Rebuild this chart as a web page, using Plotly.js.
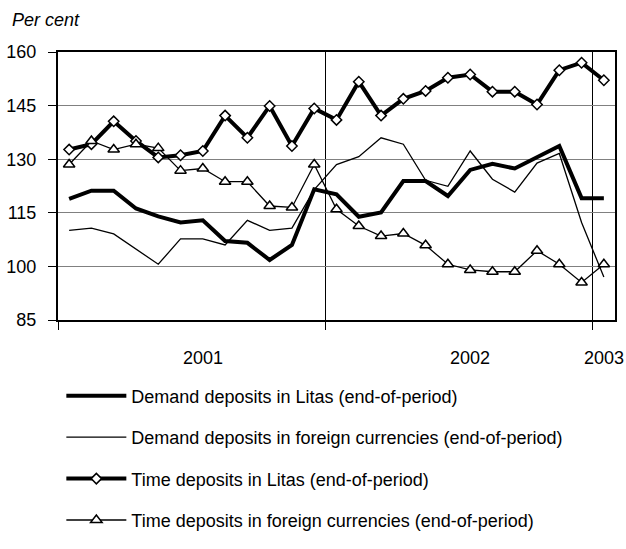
<!DOCTYPE html>
<html>
<head>
<meta charset="utf-8">
<script src="https://cdn.plot.ly/plotly-3.0.1.min.js"></script>
<style>html,body{margin:0;padding:0;background:#fff;}#chart{width:626px;height:549px;}</style>
</head>
<body>
<div id="chart"></div>
<script>
// monthly index positions (Jan 2001 .. Jan 2003)
const months = [1,2,3,4,5,6,7,8,9,10,11,12,13,14,15,16,17,18,19,20,21,22,23,24,25];
const yearLabels = ['2001','2002','2003'];
const yearLabelPos = [7,19,25];
const yearTicks = [0.5,12.5,24.5];

const demandLitas = [118.9,121.2,121.2,116.2,114.0,112.3,112.9,107.1,106.6,101.8,106.0,121.6,
                     120.2,113.9,115.1,123.9,123.9,119.7,127.0,128.7,127.4,130.7,133.7,119.1,119.1];
const demandForeign = [110.1,110.7,109.1,104.9,100.6,107.7,107.7,106.0,112.9,110.1,110.7,121.5,
                       128.5,130.7,136.0,134.2,124.1,122.4,132.3,124.4,120.8,128.9,131.6,112.3,97.0];
const timeLitas = [132.7,134.2,140.6,135.1,130.5,131.1,132.3,142.2,136.0,144.9,133.7,144.2,
                   141.0,151.7,142.2,146.9,149.1,152.8,153.7,148.9,148.9,145.3,154.9,157.0,152.1];
const timeForeign = [128.5,135.1,132.7,134.2,133.1,126.8,127.4,123.7,123.7,116.9,116.5,128.5,
                     116.0,111.3,108.5,109.2,105.9,100.6,99.0,98.5,98.5,104.4,100.6,95.5,100.6];

const seriesNames = ['Demand deposits in Litas (end-of-period)',
                     'Demand deposits in foreign currencies (end-of-period)',
                     'Time deposits in Litas (end-of-period)',
                     'Time deposits in foreign currencies (end-of-period)'];

const FONT = 'Liberation Sans, Arial, sans-serif';

const traces = [
  {x: months, y: demandLitas, name: seriesNames[0], mode: 'lines', legendgroup: 'a',
   line: {color: '#000', width: 4}},
  {x: months, y: demandForeign, name: seriesNames[1], mode: 'lines', legendgroup: 'b',
   line: {color: '#000', width: 1.3}},
  {x: months, y: timeLitas, name: seriesNames[2], mode: 'lines+markers', legendgroup: 'c',
   line: {color: '#000', width: 4},
   marker: {symbol: 'diamond', size: 8, color: '#fff', line: {color: '#000', width: 1.5}}},
  {x: months, y: timeForeign, name: seriesNames[3], mode: 'lines+markers', legendgroup: 'd',
   line: {color: '#000', width: 1.3},
   marker: {symbol: 'triangle-up', size: 10, color: '#fff', line: {color: '#000', width: 1.5}}}
];

const annotations = yearLabels.map((t, i) => ({
  x: yearLabelPos[i], xref: 'x', y: -0.143, yref: 'paper', yanchor: 'middle',
  text: t, showarrow: false, font: {family: FONT, size: 18, color: '#000'}
}));
annotations.push({
  x: -0.087, xref: 'paper', xanchor: 'left', y: 1.118, yref: 'paper', yanchor: 'middle',
  text: '<i>Per cent</i>', showarrow: false, font: {family: FONT, size: 18, color: '#000'}
});

const layout = {
  width: 626, height: 549,
  margin: {l: 57.5, r: 10.5, t: 52, b: 211.5},
  paper_bgcolor: '#fff', plot_bgcolor: '#fff',
  font: {family: FONT, size: 18, color: '#000'},
  showlegend: true,
  legend: {x: 0.006, xanchor: 'left', y: -0.215, yanchor: 'top', traceorder: 'grouped',
           tracegroupgap: 15, itemwidth: 60, font: {family: FONT, size: 18, color: '#000'},
           bgcolor: 'rgba(0,0,0,0)'},
  xaxis: {range: [0.5, 25.5], tickvals: yearTicks, ticktext: ['', '', ''],
          showgrid: true, gridcolor: '#000', gridwidth: 1,
          ticks: 'outside', ticklen: 8, tickcolor: '#000', tickwidth: 1,
          showline: true, linecolor: '#000', linewidth: 2, mirror: true, zeroline: false, fixedrange: true},
  yaxis: {range: [85, 160], tick0: 85, dtick: 15, showgrid: true, gridcolor: '#808080', gridwidth: 1,
          ticks: 'outside', ticklen: 8, tickcolor: '#000', tickwidth: 1, ticklabelstandoff: 8,
          showline: true, linecolor: '#000', linewidth: 2, mirror: true, zeroline: false,
          tickfont: {family: FONT, size: 18, color: '#000'}},
  annotations: annotations
};

Plotly.newPlot('chart', traces, layout, {displayModeBar: false, staticPlot: true});
</script>
</body>
</html>
